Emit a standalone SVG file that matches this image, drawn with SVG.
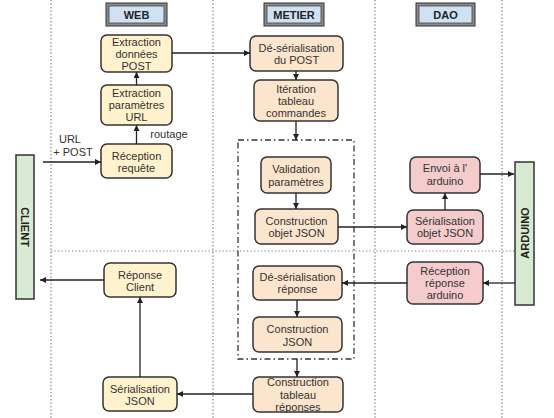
<svg xmlns="http://www.w3.org/2000/svg" width="554" height="418" viewBox="0 0 554 418">
<defs>
<marker id="arr" viewBox="0 0 10 10" refX="10" refY="5" markerWidth="6" markerHeight="6" orient="auto" markerUnits="userSpaceOnUse">
<path d="M0,0 L10,5 L0,10 z" fill="#222"/>
</marker>
<style>
text{font-family:"Liberation Sans",Arial,sans-serif;font-size:11px;fill:#333;text-anchor:middle}
.hdr{font-weight:bold;fill:#222}
.web{fill:#fff2cc;stroke:#333;stroke-width:1.5}
.met{fill:#fce5cd;stroke:#333;stroke-width:1.5}
.dao{fill:#f4cccc;stroke:#333;stroke-width:1.5}
.act{fill:#d9ead3;stroke:#333;stroke-width:1.5}
.sep{stroke:#777;stroke-width:1.2;stroke-dasharray:1.2,2.3;fill:none}
.c{stroke:#222;stroke-width:1.3;fill:none;marker-end:url(#arr)}
.hout{fill:#8a8a8a;stroke:#333;stroke-width:1}
.hin{fill:#cfe2f3;stroke:#444;stroke-width:0.8}
</style>
</defs>
<rect width="554" height="418" fill="#fff"/>

<g id="separators">
<line class="sep" x1="51" y1="0" x2="51" y2="418"/>
<line class="sep" x1="213" y1="0" x2="213" y2="418"/>
<line class="sep" x1="375" y1="0" x2="375" y2="418"/>
<line class="sep" x1="502" y1="0" x2="502" y2="418"/>
<line class="sep" x1="51" y1="251" x2="515" y2="251"/>
</g>

<g id="hdr-web">
<rect class="hout" x="106" y="3" width="61" height="23"/>
<rect class="hin" x="109" y="6" width="55" height="17"/>
<text class="hdr" x="136.5" y="19">WEB</text>
</g>
<g id="hdr-metier">
<rect class="hout" x="264" y="3" width="60" height="23"/>
<rect class="hin" x="267" y="6" width="54" height="17"/>
<text class="hdr" x="294" y="19">METIER</text>
</g>
<g id="hdr-dao">
<rect class="hout" x="416" y="3" width="59" height="23"/>
<rect class="hin" x="419" y="6" width="53" height="17"/>
<text class="hdr" x="445.5" y="19">DAO</text>
</g>

<g id="metier-group">
<rect x="238" y="140" width="116" height="219" fill="none" stroke="#333" stroke-width="1.3" stroke-dasharray="6,3,1.5,3"/>
</g>

<g id="client">
<rect class="act" x="16" y="155" width="18" height="144"/>
<text class="hdr" transform="translate(25,227) rotate(90)" y="4">CLIENT</text>
</g>
<g id="arduino">
<rect class="act" x="515" y="162" width="19" height="143"/>
<text class="hdr" transform="translate(524.5,233) rotate(-90)" y="4">ARDUINO</text>
</g>

<g id="extraction-donnees">
<rect class="web" x="101" y="35" width="71" height="37" rx="6"/>
<text x="136.5" y="46">Extraction</text>
<text x="136.5" y="58">données</text>
<text x="136.5" y="70">POST</text>
</g>
<g id="extraction-parametres">
<rect class="web" x="101" y="85" width="71" height="40" rx="6"/>
<text x="136.5" y="97">Extraction</text>
<text x="136.5" y="109">paramètres</text>
<text x="136.5" y="121">URL</text>
</g>
<g id="reception-requete">
<rect class="web" x="101" y="144" width="71" height="34" rx="6"/>
<text x="136.5" y="160">Réception</text>
<text x="136.5" y="172">requête</text>
</g>
<g id="reponse-client">
<rect class="web" x="104" y="263" width="72" height="34" rx="6"/>
<text x="140" y="279">Réponse</text>
<text x="140" y="291">Client</text>
</g>
<g id="serialisation-json">
<rect class="web" x="103" y="377" width="74" height="34" rx="6"/>
<text x="140" y="393">Sérialisation</text>
<text x="140" y="405">JSON</text>
</g>

<g id="deserialisation-post">
<rect class="met" x="250" y="36" width="93" height="35" rx="6"/>
<text x="296.5" y="52">Dé-sérialisation</text>
<text x="296.5" y="64">du POST</text>
</g>
<g id="iteration-tableau">
<rect class="met" x="254" y="80" width="84" height="41" rx="6"/>
<text x="296" y="93">Itération</text>
<text x="296" y="105">tableau</text>
<text x="296" y="117">commandes</text>
</g>
<g id="validation-parametres">
<rect class="met" x="261" y="157" width="70" height="36" rx="6"/>
<text x="296" y="173">Validation</text>
<text x="296" y="186">paramètres</text>
</g>
<g id="construction-objet-json">
<rect class="met" x="255" y="209" width="83" height="35" rx="6"/>
<text x="296.5" y="225">Construction</text>
<text x="296.5" y="237">objet JSON</text>
</g>
<g id="deserialisation-reponse">
<rect class="met" x="253" y="266" width="89" height="34" rx="6"/>
<text x="297.5" y="281">Dé-sérialisation</text>
<text x="297.5" y="293">réponse</text>
</g>
<g id="construction-json">
<rect class="met" x="253" y="317" width="89" height="35" rx="6"/>
<text x="297.5" y="333">Construction</text>
<text x="297.5" y="346">JSON</text>
</g>
<g id="construction-tableau-reponses">
<rect class="met" x="253" y="377" width="90" height="35" rx="6"/>
<text x="298" y="386">Construction</text>
<text x="298" y="399">tableau</text>
<text x="298" y="411">réponses</text>
</g>

<g id="envoi-arduino">
<rect class="dao" x="410" y="157" width="70" height="36" rx="6"/>
<text x="445" y="172">Envoi à l'</text>
<text x="445" y="185">arduino</text>
</g>
<g id="serialisation-objet-json">
<rect class="dao" x="407" y="210" width="76" height="34" rx="6"/>
<text x="445" y="225">Sérialisation</text>
<text x="445" y="237">objet JSON</text>
</g>
<g id="reception-reponse-arduino">
<rect class="dao" x="407" y="262" width="76" height="42" rx="6"/>
<text x="445" y="275">Réception</text>
<text x="445" y="287">réponse</text>
<text x="445" y="299">arduino</text>
</g>

<g id="connectors">
<line class="c" x1="43" y1="162" x2="101" y2="162"/>
<line class="c" x1="136.5" y1="144" x2="136.5" y2="125"/>
<line class="c" x1="136.5" y1="85" x2="136.5" y2="72"/>
<line class="c" x1="172" y1="53" x2="250" y2="53"/>
<line class="c" x1="296" y1="71" x2="296" y2="80"/>
<line class="c" x1="296" y1="121" x2="296" y2="140"/>
<line class="c" x1="296" y1="193" x2="296" y2="209"/>
<line class="c" x1="338" y1="227" x2="407" y2="227"/>
<line class="c" x1="445" y1="210" x2="445" y2="193"/>
<line class="c" x1="480" y1="174" x2="514" y2="174"/>
<line class="c" x1="515" y1="283" x2="483" y2="283"/>
<line class="c" x1="407" y1="283" x2="342" y2="283"/>
<line class="c" x1="297" y1="300" x2="297" y2="317"/>
<line class="c" x1="297" y1="359" x2="297" y2="377"/>
<line class="c" x1="253" y1="394" x2="177" y2="394"/>
<line class="c" x1="140" y1="377" x2="140" y2="297"/>
<line class="c" x1="104" y1="280" x2="40" y2="280"/>
<text x="70" y="143">URL</text>
<text x="73" y="156">+ POST</text>
<text x="169" y="138">routage</text>
</g>
</svg>
